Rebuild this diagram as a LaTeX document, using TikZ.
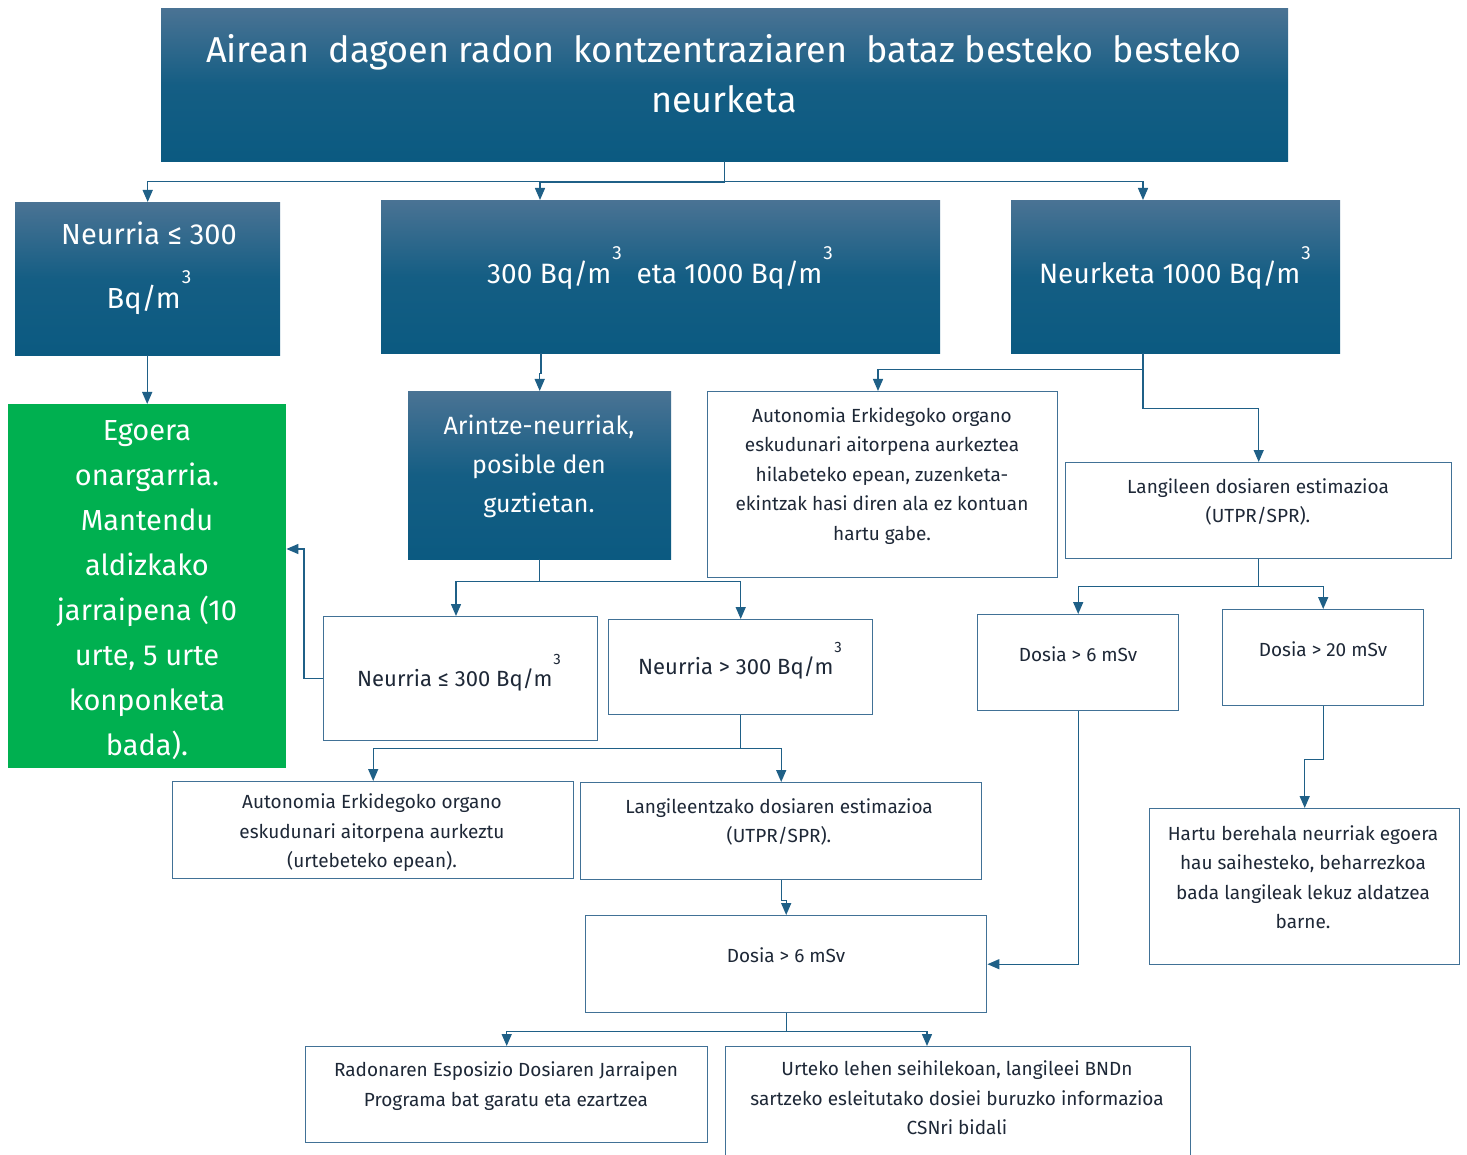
\documentclass[tikz,border=0pt]{standalone}
\usepackage{fontspec}
\setmainfont{Fira Sans}
\usetikzlibrary{arrows.meta}
\definecolor{dtop}{RGB}{74,115,148}
\definecolor{dbot}{RGB}{11,90,129}
\definecolor{grn}{RGB}{0,176,80}
\definecolor{bord}{RGB}{65,113,150}
\definecolor{arr}{RGB}{31,96,135}
\definecolor{ink}{RGB}{30,40,55}
\newcommand\cubesup[2]{\raisebox{#1}{\fontsize{#2}{#2}\selectfont\kern1pt 3}}
\begin{document}
\begin{tikzpicture}[x=1pt,y=-1pt,
  dbox/.style={rectangle,draw=none,top color=dtop,bottom color=dbot,middle color=dbot!85!dtop,inner sep=0,anchor=north west},
  gbox/.style={rectangle,draw=none,fill=grn,inner sep=0,anchor=north west},
  wbox/.style={rectangle,draw=bord,line width=1.4pt,fill=white,inner sep=0,anchor=north west},
  wtxt/.style={align=center,inner sep=0,text=white},
  btxt/.style={align=center,inner sep=0,text=ink},
  conn/.style={draw=arr,line width=1.4pt,-{Triangle[length=12pt,width=10pt]}}]
\useasboundingbox[fill=white] (0,0) rectangle (1467,1155);

% boxes
\node[dbox,minimum width=1127,minimum height=153] (title) at (161,8) {};
\node[dbox,minimum width=265,minimum height=153] (b1) at (15,202) {};
\node[dbox,minimum width=559,minimum height=153] (b2) at (381,200) {};
\node[dbox,minimum width=329,minimum height=153] (b3) at (1011,200) {};
\node[gbox,minimum width=278,minimum height=364] (green) at (8,404) {};
\node[dbox,minimum width=263,minimum height=168] (arin) at (408,391) {};
\node[wbox,minimum width=350,minimum height=186] (auto1) at (707,391) {};
\node[wbox,minimum width=386,minimum height=96] (lang1) at (1065,462) {};
\node[wbox,minimum width=274,minimum height=124] (nle) at (323,616) {};
\node[wbox,minimum width=264,minimum height=95] (ngt) at (608,619) {};
\node[wbox,minimum width=201,minimum height=96] (d6r) at (977,614) {};
\node[wbox,minimum width=201,minimum height=96] (d20) at (1222,609) {};
\node[wbox,minimum width=401,minimum height=97] (auto2) at (172,781) {};
\node[wbox,minimum width=401,minimum height=97] (lang2) at (580,782) {};
\node[wbox,minimum width=401,minimum height=97] (d6b) at (585,915) {};
\node[wbox,minimum width=310,minimum height=156] (hartu) at (1149,808) {};
\node[wbox,minimum width=402,minimum height=96] (radon) at (305,1046) {};
\node[wbox,minimum width=465,minimum height=120] (urteko) at (725,1046) {};

% texts
\node[wtxt,font=\fontsize{36}{50}\selectfont] (ttitle) at (724,74) {Airean\ \ dagoen radon\ \ kontzentraziaren\ \ bataz besteko\ \ besteko\\neurketa};
\node[wtxt,font=\fontsize{29}{64}\selectfont] (tb1) at (149,268) {Neurria ≤ 300\\Bq/m\cubesup{0.85em}{19}};
\node[wtxt,font=\fontsize{28}{40}\selectfont] (tb2) at (660,268) {300 Bq/m\cubesup{0.85em}{19}\ \ eta 1000 Bq/m\cubesup{0.85em}{19}};
\node[wtxt,font=\fontsize{28}{40}\selectfont] (tb3) at (1175,268) {Neurketa 1000 Bq/m\cubesup{0.85em}{19}};
\node[wtxt,font=\fontsize{29}{44.9}\selectfont] (tgreen) at (147,590) {Egoera\\onargarria.\\Mantendu\\aldizkako\\jarraipena (10\\urte, 5 urte\\konponketa\\bada).};
\node[wtxt,font=\fontsize{25}{39}\selectfont] (tarin) at (539,466) {Arintze-neurriak,\\posible den\\guztietan.};
\node[btxt,font=\fontsize{19}{29.5}\selectfont] (tauto1) at (882,476) {Autonomia Erkidegoko organo\\eskudunari aitorpena aurkeztea\\hilabeteko epean, zuzenketa-\\ekintzak hasi diren ala ez kontuan\\hartu gabe.};
\node[btxt,font=\fontsize{19}{29.5}\selectfont] (tlang1) at (1258,502) {Langileen dosiaren estimazioa\\(UTPR/SPR).};
\node[btxt,font=\fontsize{22}{30}\selectfont] (tnle) at (459,673) {Neurria ≤ 300 Bq/m\cubesup{1em}{15}};
\node[btxt,font=\fontsize{22}{30}\selectfont] (tngt) at (740,661) {Neurria > 300 Bq/m\cubesup{1em}{15}};
\node[btxt,font=\fontsize{19}{29.5}\selectfont] (td6r) at (1078,654) {Dosia > 6 mSv};
\node[btxt,font=\fontsize{19}{29.5}\selectfont] (td20) at (1323,649) {Dosia > 20 mSv};
\node[btxt,font=\fontsize{19}{29.5}\selectfont] (tauto2) at (372,833) {Autonomia Erkidegoko organo\\eskudunari aitorpena aurkeztu\\(urtebeteko epean).};
\node[btxt,font=\fontsize{19}{29.5}\selectfont] (tlang2) at (779,822) {Langileentzako dosiaren estimazioa\\(UTPR/SPR).};
\node[btxt,font=\fontsize{19}{29.5}\selectfont] (td6b) at (786,955) {Dosia > 6 mSv};
\node[btxt,font=\fontsize{19}{29.5}\selectfont] (thartu) at (1303,877) {Hartu berehala neurriak egoera\\hau saihesteko, beharrezkoa\\bada langileak lekuz aldatzea\\barne.};
\node[btxt,font=\fontsize{19}{29.5}\selectfont] (tradon) at (506,1086) {Radonaren Esposizio Dosiaren Jarraipen\\Programa bat garatu eta ezartzea};
\node[btxt,font=\fontsize{19}{29.5}\selectfont] (turteko) at (957,1098) {Urteko lehen seihilekoan, langileei BNDn\\sartzeko esleitutako dosiei buruzko informazioa\\CSNri bidali};

% connectors
\draw[conn] (title.south) -- ++(0,20) -| (b1.north);
\draw[conn] (title.south) -- ++(0,21) -| (b2.north -| 540,0);
\draw[conn] (title.south) -- ++(0,20) -| (b3.north -| 1143,0);
\draw[conn] (b1.south -| green.north) -- (green.north);
\draw[conn] (b2.south -| 541,0) -- ++(0,20) -| (arin.north);
\draw[conn] (b3.south -| 1143,0) -- ++(0,16) -| (auto1.north -| 878,0);
\draw[conn] (b3.south -| 1143,0) -- ++(0,55) -| (lang1.north);
\draw[conn] (arin.south) -- ++(0,22) -| (nle.north -| 456,0);
\draw[conn] (arin.south) -- ++(0,22) -| (ngt.north);
\draw[conn] (nle.west) -- ++(-19,0) |- (green.east |- 0,549);
\draw[conn] (ngt.south) -- ++(0,33) -| (auto2.north);
\draw[conn] (ngt.south) -- ++(0,33) -| (lang2.north);
\draw[conn] (lang2.south) -- ++(0,20) -| (d6b.north);
\draw[conn] (lang1.south) -- ++(0,27) -| (d6r.north);
\draw[conn] (lang1.south) -- ++(0,27) -| (d20.north);
\draw[conn] (d6r.south) |- (d6b.east);
\draw[conn] (d20.south) -- ++(0,53) -| (hartu.north);
\draw[conn] (d6b.south) -- ++(0,18) -| (radon.north);
\draw[conn] (d6b.south) -- ++(0,18) -| (urteko.north -| 927,0);
\end{tikzpicture}
\end{document}
